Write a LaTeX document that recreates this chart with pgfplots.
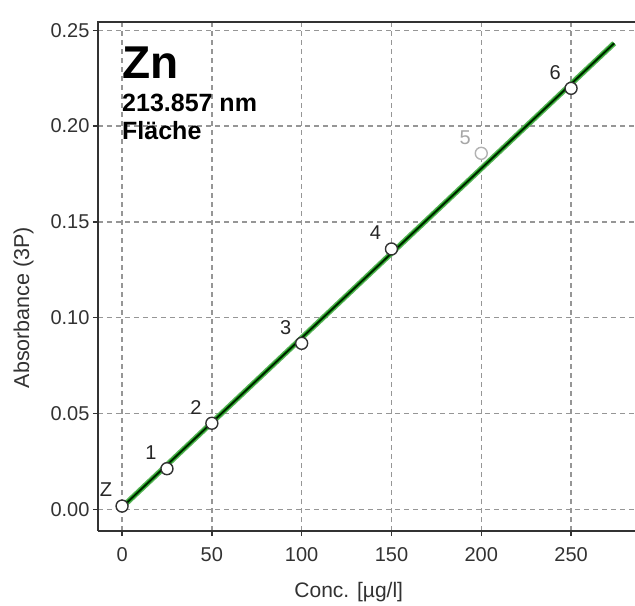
\documentclass[border=0pt]{standalone}
\usepackage{pgfplots}
\pgfplotsset{compat=1.18}
\usepackage{fontspec}
\setmainfont{Liberation Sans}
\definecolor{lgreen}{RGB}{90,180,90}
\definecolor{dgreen}{RGB}{0,115,0}
\definecolor{axcol}{RGB}{50,50,50}
\definecolor{gridcol}{RGB}{150,150,150}
\begin{document}
\begin{tikzpicture}
\useasboundingbox (-98bp,-75bp) rectangle (537bp,531bp);
\begin{axis}[
  scale only axis, width=537bp, height=509bp,
  xmin=-13.4, xmax=285.6, ymin=-0.0112, ymax=0.2543,
  axis x line*=bottom, axis y line*=left,
  axis line style={-, line width=1.8bp, color=axcol},
  xtick={0,50,100,150,200,250},
  ytick={0,0.05,0.1,0.15,0.2,0.25},
  yticklabel style={/pgf/number format/.cd, fixed, fixed zerofill, precision=2},
  xticklabel style={yshift=-8bp},
  /pgf/number format/assume math mode=true,
  tick label style={font=\fontsize{20bp}{24bp}\selectfont, text=axcol},
  tick align=outside, major tick length=5bp,
  tick style={line width=1.3bp, color=axcol},
  grid=major,
  major grid style={line width=1.3bp, color=gridcol, dash pattern=on 5bp off 4bp},
  xlabel={Conc. [µg/l]},
  ylabel={Absorbance (3P)},
  xlabel style={at={(axis description cs:0.467,-0.1316)}, anchor=base, font=\fontsize{21bp}{25bp}\selectfont, text=axcol},
  ylabel style={at={(axis description cs:-0.1387,0.439)}, anchor=center, rotate=0, font=\fontsize{21.5bp}{25bp}\selectfont, text=axcol},
  clip=false,
]
\addplot[line width=5.5bp, lgreen] coordinates {(0,0.0012) (274,0.2432)};
\addplot[line width=2.8bp, dgreen] coordinates {(0,0.0012) (274,0.2432)};
\addplot[line width=0.9bp, black] coordinates {(0,0.0012) (274,0.2432)};
\addplot[only marks, mark=*, mark size=6bp,
  mark options={fill=white, draw=axcol, line width=1.4bp},
  nodes near coords, point meta=explicit symbolic,
  nodes near coords style={anchor=center, xshift=-16bp, yshift=16bp,
    font=\fontsize{20bp}{24bp}\selectfont, text=black!85}]
  table[meta=label] {
x y label
0 0.0018 Z
25 0.0213 1
50 0.0450 2
100 0.0867 3
150 0.1359 4
250 0.2197 6
};
\addplot[only marks, mark=*, mark size=6bp,
  mark options={fill=white, draw=black!30, line width=1.4bp},
  nodes near coords, point meta=explicit symbolic,
  nodes near coords style={anchor=center, xshift=-16bp, yshift=16bp,
    font=\fontsize{20bp}{24bp}\selectfont, text=black!35}]
  table[meta=label] {
x y label
200 0.1858 5
};
\end{axis}
\draw[line width=1.8bp, axcol] (-0.9bp,509bp) -- (537bp,509bp);
\node[anchor=base west, inner sep=0pt, font=\fontsize{46bp}{50bp}\selectfont\bfseries] at (24bp,452bp) {Zn};
\node[anchor=base west, inner sep=0pt, font=\fontsize{25bp}{28bp}\selectfont\bfseries] at (24bp,419bp) {213.857 nm};
\node[anchor=base west, inner sep=0pt, font=\fontsize{25bp}{28bp}\selectfont\bfseries] at (24bp,391bp) {Fläche};
\end{tikzpicture}
\end{document}
